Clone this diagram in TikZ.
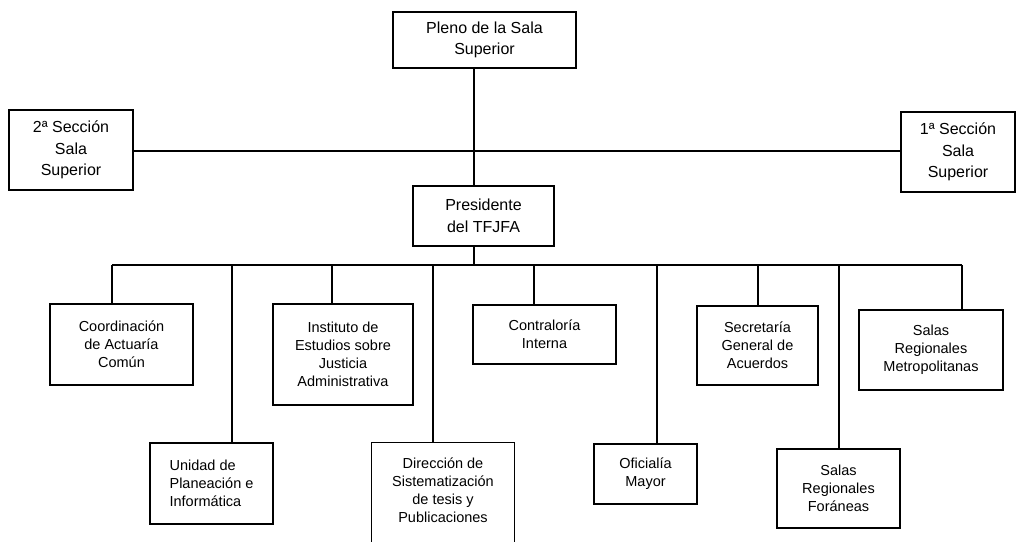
\documentclass[tikz,border=0pt]{standalone}
\usepackage{fontspec}
\setmainfont{Liberation Sans}
\begin{document}
\begin{tikzpicture}[x=1pt,y=-1pt,line width=1.2pt,
  bigbox/.style={draw,inner sep=0pt,align=center,font=\fontsize{16}{21.5}\selectfont},
  smallbox/.style={draw,inner sep=0pt,align=center,font=\fontsize{14.5}{18}\selectfont},
  conn/.style={line width=1.2pt}]
\useasboundingbox (0,0) rectangle (1017,541);
\clip (0,0) rectangle (1017,541);
\fill[white] (0,0) rectangle (1017,541);

% top level
\node[bigbox,minimum width=183pt,minimum height=56pt] (pleno) at (484.5,40) {Pleno de la Sala\\Superior};
\node[bigbox,minimum width=124pt,minimum height=80pt] (sec2) at (71,150) {2ª Sección\\Sala\\Superior};
\node[bigbox,minimum width=114pt,minimum height=80pt] (sec1) at (958,152) {1ª Sección\\Sala\\Superior};
\node[bigbox,minimum width=141pt,minimum height=60pt] (pres) at (483.5,216) {Presidente\\del TFJFA};

% second level
\node[smallbox,minimum width=143pt,minimum height=81pt] (coord) at (121.5,344.5) {Coordinación\\de Actuaría\\Común};
\node[smallbox,align=left,minimum width=123pt,minimum height=81pt] (unidad) at (211.5,483.5) {Unidad de\\Planeación e\\Informática};
\node[smallbox,minimum width=140pt,minimum height=101pt] (inst) at (343,354.5) {Instituto de\\Estudios sobre\\Justicia\\Administrativa};
\node[smallbox,draw=none,minimum width=142pt,minimum height=94pt] (dir) at (443,490) {Dirección de\\Sistematización\\de tesis y\\Publicaciones};
\node[smallbox,minimum width=143pt,minimum height=59pt] (contr) at (544.5,334.5) {Contraloría\\Interna};
\node[smallbox,minimum width=103pt,minimum height=60pt] (ofic) at (645.5,474) {Oficialía\\Mayor};
\node[smallbox,minimum width=121pt,minimum height=79pt] (secr) at (757.5,345.5) {Secretaría\\General de\\Acuerdos};
\node[smallbox,minimum width=123pt,minimum height=79pt] (foran) at (838.5,488.5) {Salas\\Regionales\\Foráneas};
\node[smallbox,minimum width=144pt,minimum height=80pt] (metro) at (931,350) {Salas\\Regionales\\Metropolitanas};

% open-bottom box
\draw (dir.south west |- 0,548) -- (dir.north west) -- (dir.north east) -- (dir.south east |- 0,548);

% junctions
\coordinate (jt) at (474,151);
\coordinate (bus) at (474,265);
\coordinate (busL) at (112,265);
\coordinate (busR) at (962,265);
\coordinate (b2) at (232,265);
\coordinate (b3) at (332,265);
\coordinate (b4) at (433,265);
\coordinate (b5) at (534,265);
\coordinate (b6) at (657,265);
\coordinate (b7) at (758,265);
\coordinate (b8) at (839,265);

\draw[conn] (pleno.south -| jt) -- (pres.north -| jt);
\draw[conn] (sec2.east |- jt) -- (sec1.west |- jt);
\draw[conn] (pres.south -| bus) -- (bus);
\draw[conn] (busL) -- (busR);

\draw[conn] (busL) -- (busL |- coord.north);
\draw[conn] (b2) -- (b2 |- unidad.north);
\draw[conn] (b3) -- (b3 |- inst.north);
\draw[conn] (b4) -- (b4 |- dir.north);
\draw[conn] (b5) -- (b5 |- contr.north);
\draw[conn] (b6) -- (b6 |- ofic.north);
\draw[conn] (b7) -- (b7 |- secr.north);
\draw[conn] (b8) -- (b8 |- foran.north);
\draw[conn] (busR) -- (busR |- metro.north);
\end{tikzpicture}
\end{document}
